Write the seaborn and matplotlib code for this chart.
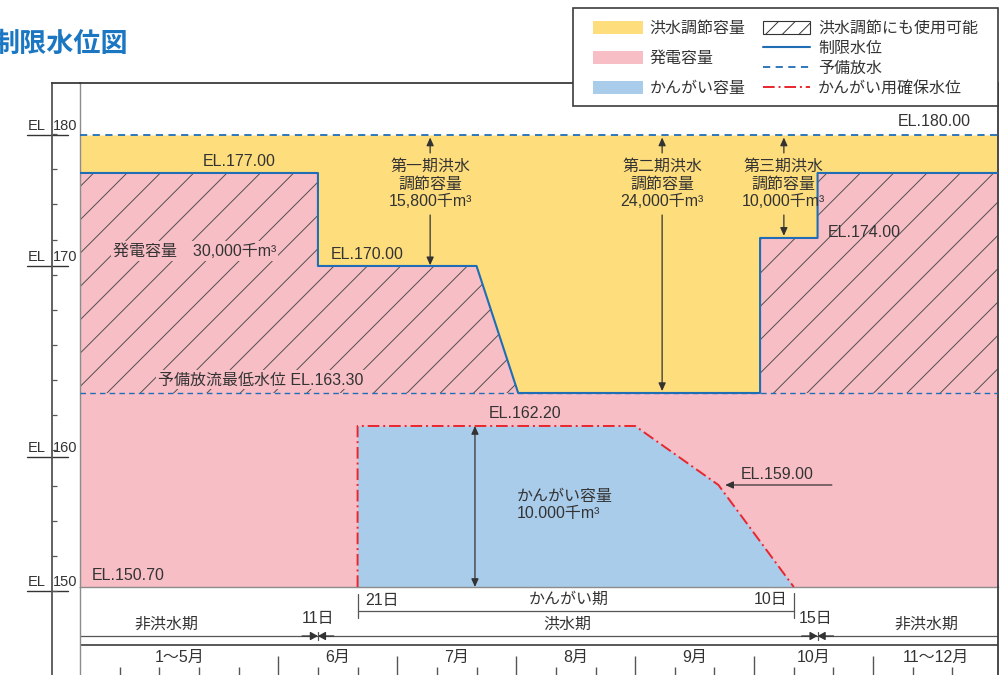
import numpy as np
import matplotlib
matplotlib.use("Agg")
import matplotlib.pyplot as plt
import matplotlib.patches as mpatches
import matplotlib.lines as mlines
import matplotlib.transforms as mtransforms
import seaborn as sns

# ---------------------------------------------------------------
# データ
# 横軸は旬（10日）単位: 1〜5月は1か月=1目盛に圧縮、6〜10月は1か月=3旬
# ---------------------------------------------------------------
MONTH_EDGES = [0, 5, 8, 11, 14, 17, 20, 23.15]
MONTH_LABELS = ["1〜5月", "6月", "7月", "8月", "9月", "10月", "11〜12月"]
DEKAD_TICKS = list(range(1, 23))

# 制限水位 (EL.m)
LIMIT_X = [0, 6, 6, 10, 11.05, 17.15, 17.15, 18.6, 18.6, 23.15]
LIMIT_EL = [177.0, 177.0, 170.0, 170.0, 163.3, 163.3, 174.0, 174.0, 177.0, 177.0]

# かんがい用確保水位
IRR_X = [7, 7, 14, 16.1, 18]
IRR_EL = [150.7, 162.2, 162.2, 159.0, 150.7]

SURCHARGE_EL = 180.0   # 予備放水
RESERVE_EL = 163.3     # 予備放流最低水位
BOTTOM_EL = 150.7

FLOOD_START, FLOOD_END = 6.0, 18.6   # 6月11日, 10月15日
IRR_START, IRR_END = 7.0, 18.0       # 6月21日, 10月10日

# 洪水調節容量の矢印
FLOOD_X = [8.83, 14.68, 17.75]
FLOOD_BASE = [170.0, 163.3, 174.0]
FLOOD_LABELS = ["第一期洪水\n調節容量\n15,800千m³",
                "第二期洪水\n調節容量\n24,000千m³",
                "第三期洪水\n調節容量\n10,000千m³"]

AXIS_EL = [180, 170, 160, 150]

# 図は縮尺どおりではないので 標高 -> 作図高さ の折れ線スケールを使う
EL_KNOTS = [120, 150.0, 150.7, 159.0, 160.0, 162.2, 163.3, 170.0, 174.0, 177.0, 180.0, 220]
POS_KNOTS = [-373, -4, 0, 102, 130, 161, 194, 321, 349, 414, 452, 959]


def to_pos(v):
    return np.interp(v, EL_KNOTS, POS_KNOTS)


def to_el(p):
    return np.interp(p, POS_KNOTS, EL_KNOTS)


# 色
YELLOW = "#FEDD7C"
PINK = "#F8BEC6"
LIGHT_BLUE = "#AACCEB"
BLUE = "#1F6DB5"
RED = "#E8262D"
TXT = "#333333"
GRAY = "#8C8C8C"
FRAME = "#3C3C3C"
HATCH = "#505050"
TITLE = "#1C77C3"
FS = 11.5

sns.set_theme(style="white")
plt.rcParams["font.family"] = ["Liberation Sans", "Noto Sans CJK JP", "DejaVu Sans"]
plt.rcParams["hatch.color"] = HATCH
plt.rcParams["hatch.linewidth"] = 0.7

W, H = 1008, 675
fig = plt.figure(figsize=(W / 100, H / 100), dpi=100)


def box(x0, y0, x1, y1):
    return [x0 / W, 1 - y1 / H, (x1 - x0) / W, (y1 - y0) / H]


ax = fig.add_axes(box(80, 83, 998, 587))
axt = fig.add_axes(box(80, 587, 998, 675), facecolor="none")
axr = fig.add_axes(box(52, 83, 80, 675), facecolor="none")

# ---------------- 本体 ----------------
ax.set_yscale("function", functions=(to_pos, to_el))
ax.fill_between(LIMIT_X, BOTTOM_EL, LIMIT_EL, color=PINK, lw=0, zorder=1)
ax.fill_between(LIMIT_X, LIMIT_EL, SURCHARGE_EL, color=YELLOW, lw=0, zorder=1)
ax.fill_between(IRR_X, BOTTOM_EL, IRR_EL, color=LIGHT_BLUE, lw=0, zorder=2)
ax.fill_between(LIMIT_X, RESERVE_EL, LIMIT_EL, facecolor="none", edgecolor=HATCH,
                hatch="/", lw=0, zorder=2)
ax.axhline(SURCHARGE_EL, color=BLUE, lw=1.3, dashes=(4, 3), zorder=3)
ax.axhline(RESERVE_EL, color=BLUE, lw=1.0, dashes=(4, 3), zorder=3)
sns.lineplot(x=LIMIT_X, y=LIMIT_EL, sort=False, estimator=None, color=BLUE,
             lw=1.5, ax=ax, zorder=4)
sns.lineplot(x=IRR_X, y=IRR_EL, sort=False, estimator=None, color=RED,
             lw=1.4, linestyle=(0, (6, 2, 1, 2)), ax=ax, zorder=4)

txt = dict(color=TXT, fontsize=FS, va="center", zorder=6)
pink_box = dict(facecolor=PINK, edgecolor="none", pad=1.5)
ax.text(22.47, 181.03, "EL.180.00", ha="right", **txt)
ax.text(4.01, 177.87, "EL.177.00", ha="center", **txt)
ax.text(6.33, 171.57, "EL.170.00", ha="left", **txt)
ax.text(18.86, 174.23, "EL.174.00", ha="left", **txt)
ax.text(0.83, 172.15, "発電容量　30,000千m³", ha="left", bbox=pink_box, **txt)
ax.text(1.97, 163.99, "予備放流最低水位 EL.163.30", ha="left", bbox=pink_box, **txt)
ax.text(10.31, 162.6, "EL.162.20", ha="left", **txt)
ax.text(11.02, 157.37, "かんがい容量\n10.000千m³", ha="left", linespacing=1.15, **txt)
ax.text(16.67, 159.39, "EL.159.00", ha="left", **txt)
ax.text(0.30, 151.6, "EL.150.70", ha="left", **txt)

arrow = dict(arrowstyle="-|>,head_length=0.4,head_width=0.18", color=TXT, lw=0.9,
             shrinkA=0, shrinkB=0, mutation_scale=12)
for x, base, label in zip(FLOOD_X, FLOOD_BASE, FLOOD_LABELS):
    ax.text(x, 176.49, label, ha="center", linespacing=1.2, **txt)
    ax.annotate("", xy=(x, 179.8), xytext=(x, 178.58), arrowprops=arrow, zorder=6)
    ax.annotate("", xy=(x, base + 0.1), xytext=(x, 175.06), arrowprops=arrow, zorder=6)

both = dict(arrow, arrowstyle="<|-|>,head_length=0.4,head_width=0.18")
ax.annotate("", xy=(9.96, BOTTOM_EL), xytext=(9.96, 162.2), arrowprops=both, zorder=6)
ax.annotate("", xy=(16.27, 159.0), xytext=(18.96, 159.0), arrowprops=arrow, zorder=6)

ax.set_xlim(0, 23.15)
ax.set_ylim(BOTTOM_EL, 184.1)
ax.set_xticks([])
ax.set_yticks([])
ax.set_xlabel("")
ax.set_ylabel("")
for side, col, lw in [("left", GRAY, 1.0), ("bottom", GRAY, 1.0),
                      ("top", FRAME, 1.3), ("right", FRAME, 1.3)]:
    ax.spines[side].set_color(col)
    ax.spines[side].set_linewidth(lw)

# 左の標高目盛
xy_sys = ("figure pixels", "data")
blend = mtransforms.blended_transform_factory(fig.transFigure, ax.transData)
for el in AXIS_EL:
    ax.annotate("EL", xy=(37, el), xycoords=xy_sys, xytext=(0, 6.5),
                textcoords="offset points", ha="center", va="center",
                fontsize=10.5, color=TXT, annotation_clip=False)
    ax.annotate(str(el), xy=(65.5, el), xycoords=xy_sys, xytext=(0, 6.5),
                textcoords="offset points", ha="center", va="center",
                fontsize=10.5, color=TXT, annotation_clip=False)
    ax.plot([27 / W, 68 / W], [el, el], transform=blend, color=TXT, lw=1.0,
            clip_on=False)

axr.set_ylim(144.49, 183.35)
axr.set_xlim(0, 1)
axr.set_yticks(np.linspace(150, 180, 14))
axr.set_xticks([])
axr.tick_params(axis="y", left=True, direction="in", length=3.6, width=0.9,
                color="#555555", labelleft=False)
axr.spines["left"].set_color("#555555")
axr.spines["left"].set_linewidth(1.3)
axr.spines["top"].set_color(FRAME)
axr.spines["top"].set_linewidth(1.3)
axr.spines["right"].set_visible(False)
axr.spines["bottom"].set_visible(False)

# ---------------- 期間・月 ----------------
axt.set_xlim(0, 23.15)
axt.set_ylim(88, 0)
line_kw = dict(color="#555555", lw=0.9)
axt.plot([IRR_START, IRR_END], [24, 24], **line_kw)
axt.plot([IRR_START, IRR_START], [7, 31], **line_kw)
axt.plot([IRR_END, IRR_END], [6, 31], **line_kw)
axt.axhline(49, **line_kw)
axt.axhline(58, color=FRAME, lw=1.2)
small = dict(arrow, arrowstyle="-|>,head_length=0.45,head_width=0.25", mutation_scale=10)
for d in (FLOOD_START, FLOOD_END):
    axt.annotate("", xy=(d, 49), xytext=(d - 0.4, 49), arrowprops=small)
    axt.annotate("", xy=(d, 49), xytext=(d + 0.4, 49), arrowprops=small)
    axt.plot([d, d], [45, 53], **line_kw)

ttxt = dict(color=TXT, fontsize=FS, va="center")
axt.text(IRR_START + 0.2, 13, "21日", ha="left", **ttxt)
axt.text(12.33, 12.5, "かんがい期", ha="center", **ttxt)
axt.text(IRR_END - 0.17, 12.5, "10日", ha="right", **ttxt)
axt.text(2.17, 37, "非洪水期", ha="center", **ttxt)
axt.text(FLOOD_START, 32, "11日", ha="center", **ttxt)
axt.text(12.3, 37, "洪水期", ha="center", **ttxt)
axt.text(FLOOD_END - 0.05, 32, "15日", ha="center", **ttxt)
axt.text(21.34, 37, "非洪水期", ha="center", **ttxt)
for lo, hi, lab in zip(MONTH_EDGES[:-1], MONTH_EDGES[1:], MONTH_LABELS):
    axt.text((lo + hi) / 2, 70, lab, ha="center", **ttxt)

axt.set_xticks(MONTH_EDGES[1:-1])
axt.set_xticks(DEKAD_TICKS, minor=True)
axt.set_yticks([])
axt.tick_params(axis="x", which="major", bottom=True, direction="in", length=13.7,
                width=1.0, color="#555555", labelbottom=False)
axt.tick_params(axis="x", which="minor", bottom=True, direction="in", length=5.8,
                width=1.0, color="#555555")
axt.spines["left"].set_color(GRAY)
axt.spines["left"].set_linewidth(1.0)
axt.spines["right"].set_color(FRAME)
axt.spines["right"].set_linewidth(1.3)
axt.spines["top"].set_visible(False)
axt.spines["bottom"].set_visible(False)

# ---------------- 凡例 ----------------
fig.add_artist(mpatches.Rectangle((573 / W, 1 - 106 / H), (998 - 573) / W, (106 - 8) / H,
                                  transform=fig.transFigure, facecolor="white",
                                  edgecolor=FRAME, lw=1.2, zorder=3))
fill_handles = [mpatches.Patch(facecolor=c, edgecolor="none")
                for c in (YELLOW, PINK, LIGHT_BLUE)]
fig.legend(fill_handles, ["洪水調節容量", "発電容量", "かんがい容量"],
           loc="upper left", bbox_to_anchor=(593 / W, 1 - 21 / H), frameon=False,
           borderpad=0, borderaxespad=0, handlelength=3.1, handleheight=0.85,
           handletextpad=0.45, labelspacing=0.94, fontsize=FS, labelcolor=TXT)
line_handles = [
    mpatches.Patch(facecolor="white", edgecolor=TXT, hatch="//", lw=0.8),
    mlines.Line2D([], [], color=BLUE, lw=1.5),
    mlines.Line2D([], [], color=BLUE, lw=1.3, dashes=(4, 3)),
    mlines.Line2D([], [], color=RED, lw=1.4, linestyle=(0, (6, 2, 1, 2))),
]
fig.legend(line_handles, ["洪水調節にも使用可能", "制限水位", "予備放水", "かんがい用確保水位"],
           loc="upper left", bbox_to_anchor=(763 / W, 1 - 21 / H), frameon=False,
           borderpad=0, borderaxespad=0, handlelength=2.95, handleheight=0.85,
           handletextpad=0.5, labelspacing=0.31, fontsize=FS, labelcolor=TXT)

fig.text(128 / W, 1 - 45 / H, "制限水位図", ha="right", va="center", fontsize=19.5,
         color=TITLE, weight="bold")

fig.savefig("out.png", dpi=100)
